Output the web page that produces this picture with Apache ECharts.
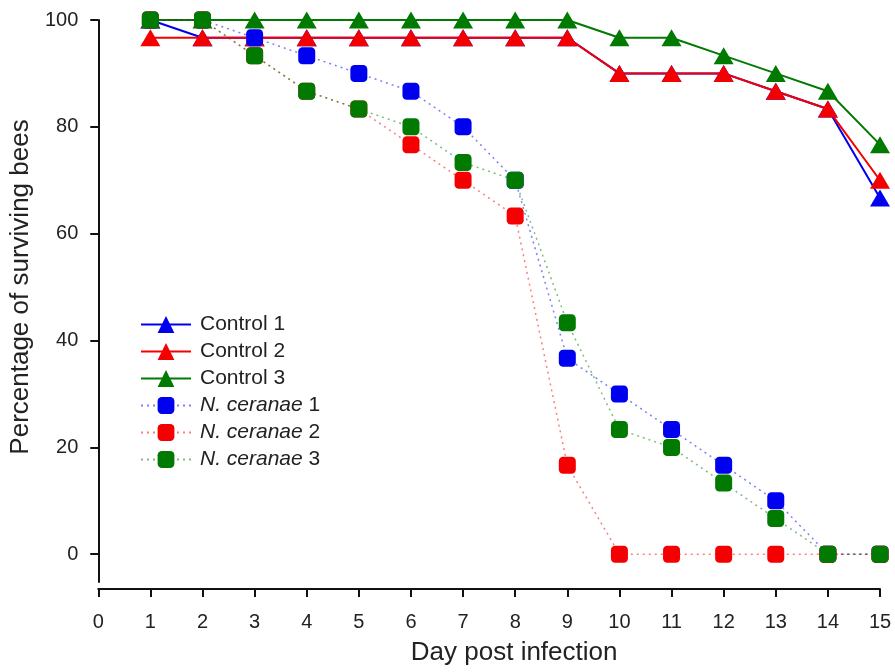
<!DOCTYPE html>
<html>
<head>
<meta charset="utf-8">
<script src="https://cdn.jsdelivr.net/npm/echarts@6/dist/echarts.min.js"></script>
<style>
html, body { margin: 0; padding: 0; background: #fff; }
#chart { width: 895px; height: 672px; }
</style>
</head>
<body>
<div id="chart"></div>
<script>
// survival data, 30 bees per group (values in %)
var days = [1, 2, 3, 4, 5, 6, 7, 8, 9, 10, 11, 12, 13, 14, 15]
var control1 = [100, 96.67, 96.67, 96.67, 96.67, 96.67, 96.67, 96.67, 96.67, 90, 90, 90, 86.67, 83.33, 66.67]
var control2 = [96.67, 96.67, 96.67, 96.67, 96.67, 96.67, 96.67, 96.67, 96.67, 90, 90, 90, 86.67, 83.33, 70]
var control3 = [100, 100, 100, 100, 100, 100, 100, 100, 100, 96.67, 96.67, 93.33, 90, 86.67, 76.67]
var ceranae1 = [100, 100, 96.67, 93.33, 90, 86.67, 80, 70, 36.67, 30, 23.33, 16.67, 10, 0, 0]
var ceranae2 = [100, 100, 93.33, 86.67, 83.33, 76.67, 70, 63.33, 16.67, 0, 0, 0, 0, 0, 0]
var ceranae3 = [100, 100, 93.33, 86.67, 83.33, 80, 73.33, 70, 43.33, 23.33, 20, 13.33, 6.67, 0, 0]
var yTicks = [0, 20, 40, 60, 80, 100]

var font = 'Liberation Sans, Arial, sans-serif'
var blue = '#0000f0', red = '#f50000', green = '#007a00'

function pairs(vals) {
	return days.map(function (d, i) { return [d, vals[i]] })
}

function controlSeries(name, vals, color) {
	return {
		name: name,
		type: 'line',
		data: pairs(vals),
		symbol: 'triangle',
		symbolSize: [20, 17],
		itemStyle: { color: color },
		lineStyle: { color: color, width: 2 },
		emphasis: { disabled: true }
	}
}

function ceranaeSeries(name, vals, color) {
	return {
		name: name,
		type: 'line',
		data: pairs(vals),
		symbol: 'roundRect',
		symbolSize: 17,
		itemStyle: { color: color },
		lineStyle: { color: color, width: 1.5, type: [2, 4], opacity: 0.5 },
		emphasis: { disabled: true }
	}
}

var chart = echarts.init(document.getElementById('chart'))
chart.setOption({
	animation: false,
	textStyle: { fontFamily: font },
	grid: { left: 96, right: 15, top: 20, bottom: 90 },
	legend: {
		orient: 'vertical',
		left: 135,
		top: 309,
		itemWidth: 50,
		itemHeight: 21,
		itemGap: 6,
		textStyle: {
			fontFamily: font,
			fontSize: 21,
			color: '#222',
			padding: [0, 0, 0, 4],
			rich: {
				i: { fontFamily: font, fontSize: 21, color: '#222', fontStyle: 'italic' }
			}
		},
		formatter: function (name) {
			if (name.indexOf('N. ceranae') === 0) {
				return '{i|N. ceranae}' + name.slice(10)
			}
			return name
		},
		data: ['Control 1', 'Control 2', 'Control 3', 'N. ceranae 1', 'N. ceranae 2', 'N. ceranae 3']
	},
	xAxis: {
		type: 'value',
		min: 0,
		max: 15,
		interval: 1,
		offset: 7,
		name: 'Day post infection',
		nameLocation: 'middle',
		nameGap: 51,
		nameTextStyle: { fontFamily: font, fontSize: 26, color: '#222', padding: [0, 0, 0, 50] },
		axisLine: { onZero: false, lineStyle: { color: '#111', width: 2 } },
		axisTick: { length: 8, lineStyle: { color: '#111', width: 2 } },
		axisLabel: { fontFamily: font, fontSize: 20, color: '#222', margin: 23 },
		splitLine: { show: false }
	},
	yAxis: {
		type: 'value',
		min: -5.2,
		max: 100,
		name: 'Percentage of surviving bees',
		nameLocation: 'middle',
		nameGap: 61,
		nameTextStyle: { fontFamily: font, fontSize: 26, color: '#222', padding: [0, 0, 0, 28] },
		axisLine: { show: true, onZero: false, lineStyle: { color: '#111', width: 2 } },
		axisTick: { show: true, length: 8, customValues: yTicks, lineStyle: { color: '#111', width: 2 } },
		axisLabel: { fontFamily: font, fontSize: 20, color: '#222', margin: 20, customValues: yTicks },
		splitLine: { show: false }
	},
	series: [
		controlSeries('Control 1', control1, blue),
		controlSeries('Control 2', control2, red),
		controlSeries('Control 3', control3, green),
		ceranaeSeries('N. ceranae 1', ceranae1, blue),
		ceranaeSeries('N. ceranae 2', ceranae2, red),
		ceranaeSeries('N. ceranae 3', ceranae3, green)
	]
})
</script>
</body>
</html>
